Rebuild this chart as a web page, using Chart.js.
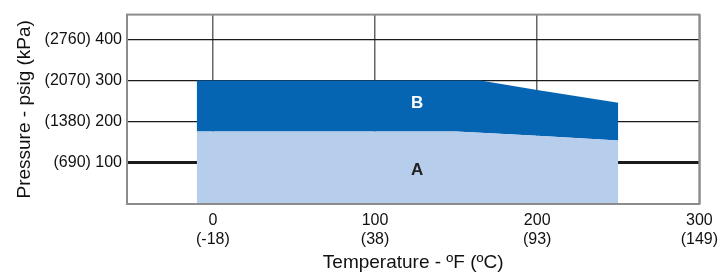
<!DOCTYPE html>
<html lang="en">
<head>
    <meta charset="UTF-8">
    <title>Pressure vs Temperature</title>
    <script src="https://cdn.jsdelivr.net/npm/chart.js"></script>
    <style>
        body { margin: 0; background: white; }
        .box { width: 725px; height: 274px; }
    </style>
</head>
<body>
    <div class="box"><canvas id="grafico"></canvas></div>

<script>
    // temperatures (F) where the region outlines bend
    const temps = [-10, 100, 150, 165, 200, 250];
    // top of region A (psig)
    const pressA = [176, 176, 176, 173, 166, 154];
    // top of region B (psig)
    const pressB = [300, 300, 300, 300, 277, 246];

    const xTicksF = [0, 100, 200, 300];
    const xTicksC = ['-18', '38', '93', '149'];
    const yTicksPsi = [100, 200, 300, 400];
    const yTicksKpa = ['690', '1380', '2070', '2760'];

    const regionNames = ['A', 'B'];
    const regionX = [126, 126];
    const regionY = [82, 245];

    const fonte = '"Liberation Sans", Arial, sans-serif';

    function pontos(ys) {
        let lista = [];
        for (let i = 0; i < temps.length; i++) {
            lista.push({ x: temps[i], y: ys[i] });
        }
        return lista;
    }

    const rotulos = {
        id: 'rotulos',
        afterDatasetsDraw(chart) {
            const ctx = chart.ctx;
            ctx.save();
            ctx.font = 'bold 17px ' + fonte;
            ctx.textAlign = 'center';
            ctx.textBaseline = 'middle';
            for (let i = 0; i < regionNames.length; i++) {
                ctx.fillStyle = regionNames[i] == 'B' ? 'white' : '#222';
                ctx.fillText(regionNames[i], chart.scales.x.getPixelForValue(regionX[i]),
                    chart.scales.y.getPixelForValue(regionY[i]));
            }
            ctx.restore();
        }
    };

    const moldura = {
        id: 'moldura',
        afterDraw(chart) {
            const a = chart.chartArea;
            const ctx = chart.ctx;
            ctx.save();
            ctx.strokeStyle = '#8c8c8c';
            ctx.lineWidth = 2;
            ctx.strokeRect(a.left, a.top, a.right - a.left, a.bottom - a.top);
            ctx.restore();
        }
    };

    const ctx = document.getElementById('grafico').getContext('2d');
    new Chart(ctx, {
        type: 'line',
        data: {
            datasets: [{
                label: 'A',
                data: pontos(pressA),
                backgroundColor: '#b6cdec',
                borderWidth: 0,
                pointRadius: 0,
                fill: 'origin'
            }, {
                label: 'B',
                data: pontos(pressB),
                backgroundColor: '#0665b3',
                borderWidth: 0,
                pointRadius: 0,
                fill: '-1'
            }]
        },
        options: {
            responsive: true,
            maintainAspectRatio: false,
            animation: false,
            layout: { padding: { left: 0, top: 13, right: 22, bottom: 0 } },
            plugins: {
                legend: { display: false },
                tooltip: { enabled: false }
            },
            scales: {
                x: {
                    type: 'linear',
                    min: -53,
                    max: 300,
                    z: 1,
                    afterBuildTicks: function (scale) {
                        scale.ticks = xTicksF.map(v => ({ value: v }));
                    },
                    afterFit: function (scale) { scale.height = 70; },
                    grid: { color: '#666', lineWidth: 1.5, drawTicks: false },
                    border: { display: false },
                    ticks: {
                        padding: 7,
                        color: '#111',
                        font: { family: fonte, size: 16 },
                        maxRotation: 0,
                        callback: function (v) {
                            const i = xTicksF.indexOf(v);
                            return [String(v), '(' + xTicksC[i] + ')'];
                        }
                    },
                    title: {
                        display: true,
                        text: 'Temperature - ºF (ºC)',
                        color: '#111',
                        font: { family: fonte, size: 19 },
                        padding: { top: 0, bottom: 0 }
                    }
                },
                y: {
                    min: 0,
                    max: 460,
                    z: 1,
                    afterBuildTicks: function (scale) {
                        scale.ticks = yTicksPsi.map(v => ({ value: v }));
                    },
                    afterFit: function (scale) { scale.width = 127; },
                    grid: {
                        color: '#1a1a1a',
                        lineWidth: c => (c.tick && c.tick.value == 100) ? 3 : 1.3,
                        drawTicks: false
                    },
                    border: { display: false },
                    ticks: {
                        padding: 5,
                        color: '#111',
                        font: { family: fonte, size: 16 },
                        callback: function (v) {
                            const i = yTicksPsi.indexOf(v);
                            return '(' + yTicksKpa[i] + ') ' + v;
                        }
                    },
                    title: {
                        display: true,
                        text: 'Pressure - psig (kPa)',
                        color: '#111',
                        font: { family: fonte, size: 19 },
                        padding: { top: 13, bottom: 0 }
                    }
                }
            }
        },
        plugins: [rotulos, moldura]
    });
</script>
</body>
</html>
